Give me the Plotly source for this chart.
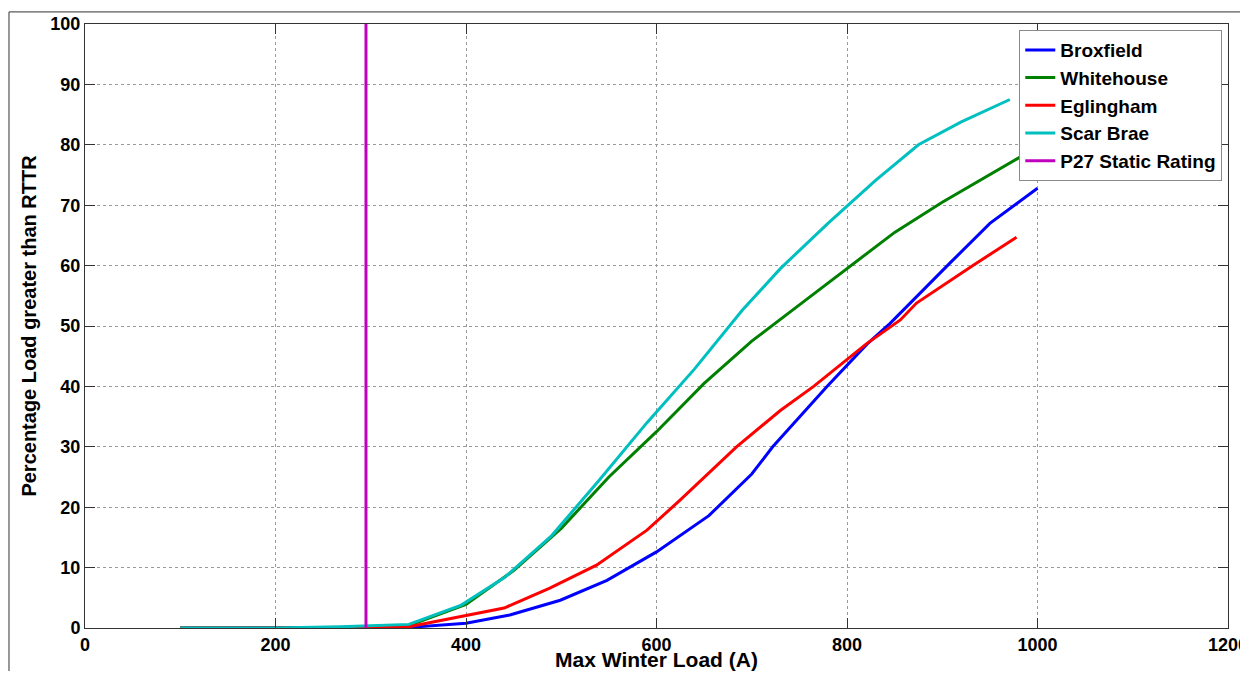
import plotly.graph_objects as go

# ---- data ----
brox_x = [100, 150, 200, 250, 300, 340, 400, 446, 499, 548, 600, 655, 700, 722, 779, 821, 845, 873, 908, 950, 1000]
brox_y = [0, 0, 0, 0, 0, 0.1, 0.8, 2.15, 4.6, 7.9, 12.6, 18.6, 25.5, 30, 40, 47, 50.4, 54.9, 60.4, 67, 72.8]

white_x = [100, 150, 200, 250, 300, 340, 400, 450, 500, 550, 600, 650, 700, 750, 800, 850, 900, 950, 982, 995]
white_y = [0, 0, 0, 0, 0, 0.4, 3.9, 9.5, 16.5, 25, 32.5, 40.5, 47.5, 53.5, 59.5, 65.5, 70.5, 75, 78, 79.2]

egl_x = [100, 150, 200, 250, 300, 340, 400, 440, 488, 537, 590, 625, 684, 730, 765, 820, 856, 873, 933, 978]
egl_y = [0, 0, 0, 0, 0, 0.2, 2.1, 3.3, 6.6, 10.4, 16.2, 21.2, 30, 36, 40, 47, 51, 53.8, 60.1, 64.7]

scar_x = [100, 150, 200, 268, 317, 340, 395, 440, 490, 540, 590, 640, 690, 730, 780, 830, 875, 920, 971]
scar_y = [0, 0, 0, 0.2, 0.4, 0.6, 3.8, 8.3, 15.3, 24.5, 34, 42.9, 52.6, 59.5, 67, 74.1, 80, 83.8, 87.5]

p27_x = [295, 295]
p27_y = [0, 100]

series = [
    ("Broxfield", brox_x, brox_y, "rgb(0,0,255)"),
    ("Whitehouse", white_x, white_y, "rgb(0,128,0)"),
    ("Eglingham", egl_x, egl_y, "rgb(255,0,0)"),
    ("Scar Brae", scar_x, scar_y, "rgb(0,191,191)"),
    ("P27 Static Rating", p27_x, p27_y, "rgb(191,0,191)"),
]

fig = go.Figure()
for name, xs, ys, col in series:
    fig.add_trace(go.Scatter(x=xs, y=ys, mode="lines", name=name,
                             line=dict(color=col, width=3)))

font_family = "Liberation Sans, Arial, sans-serif"
axis_common = dict(
    showline=True, linecolor="#333333", linewidth=1, mirror="ticks",
    ticks="inside", ticklen=10, tickcolor="#333333",
    showgrid=True, gridcolor="#9a9a9a", gridwidth=1, griddash="dot",
    zeroline=False, automargin=False, ticklabeloverflow="allow",
    tickfont=dict(family=font_family, size=18, color="black", weight="bold"),
)

# page body has an 8px margin: figure is sized to fit the 1248x679 window
fig.update_layout(
    width=1240, height=663,
    paper_bgcolor="white", plot_bgcolor="white",
    margin=dict(l=77, r=20, t=16, b=43),
    font=dict(family=font_family, color="black"),
    xaxis=dict(range=[0, 1200], tickmode="linear", tick0=0, dtick=200,
               title=dict(text="Max Winter Load (A)", standoff=3,
                          font=dict(family=font_family, size=21, weight="bold")),
               **axis_common),
    yaxis=dict(range=[0, 100], tickmode="linear", tick0=0, dtick=10,
               title=dict(text="Percentage Load greater than RTTR", standoff=8,
                          font=dict(family=font_family, size=20, weight="bold")),
               **axis_common),
    legend=dict(x=0.995, y=0.99, xanchor="right", yanchor="top",
                bgcolor="white", bordercolor="#8a8a8a", borderwidth=1,
                font=dict(family=font_family, size=19, color="black", weight="bold"),
                tracegroupgap=0),
    showlegend=True,
)

# outer frame remnants (left and top edges)
fig.add_shape(type="line", xref="paper", yref="paper",
              x0=-0.0665, x1=-0.0665, y0=-0.09, y1=1.02,
              line=dict(color="#333333", width=1))
fig.add_shape(type="line", xref="paper", yref="paper",
              x0=-0.0665, x1=1.02, y0=1.02, y1=1.02,
              line=dict(color="#333333", width=1))

fig.write_html("out.html")
